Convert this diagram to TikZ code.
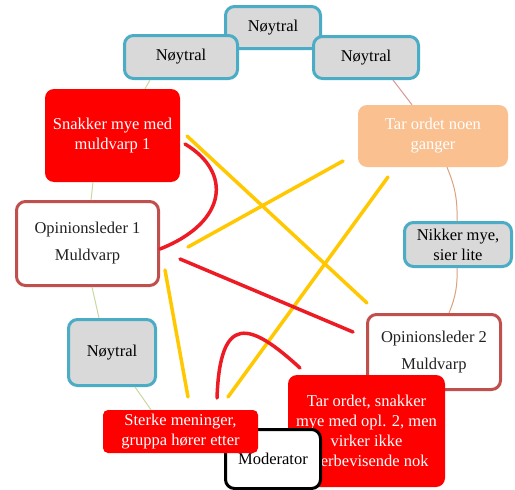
\documentclass[tikz,border=0pt]{standalone}
\usepackage{fontspec}
\setmainfont{Liberation Serif}
\usetikzlibrary{calc}
\definecolor{tealb}{HTML}{4BACC6}
\definecolor{grayf}{HTML}{D9D9D9}
\definecolor{boxred}{HTML}{FF0000}
\definecolor{peach}{HTML}{FAC090}
\definecolor{oplb}{HTML}{C0504D}
\definecolor{penred}{HTML}{ED1C24}
\definecolor{penyel}{HTML}{FFC800}
\definecolor{thing}{HTML}{C8D89E}
\definecolor{thinp}{HTML}{D99694}
\definecolor{thint}{HTML}{DDA07E}
\definecolor{txt}{HTML}{222222}
\begin{document}
\begin{tikzpicture}[x=1pt,y=-1pt,
  box/.style={rounded corners=9pt, align=center, inner sep=0pt, font=\fontsize{16.5}{20}\selectfont},
  neutral/.style={box, draw=tealb, line width=3pt, fill=grayf, text=black},
  opl/.style={box, draw=oplb, line width=3pt, fill=white, text=txt},
  redbox/.style={box, fill=boxred, text=white},
  peachbox/.style={box, fill=peach, text=white},
  modbox/.style={box, draw=black, line width=3pt, fill=white, text=black},
  thinline/.style={line width=1pt},
  pen/.style={line width=3.5pt, line cap=round}
]
\useasboundingbox (0,0) rectangle (515,490);

% nodes
\node[neutral, minimum width=95, minimum height=42] (nt) at (273,27.5) {Nøytral};
\node[neutral, minimum width=113, minimum height=43] (nl) at (181,57) {Nøytral};
\node[neutral, minimum width=105, minimum height=42] (nr) at (366,57.5) {Nøytral};
\node[redbox, minimum width=135, minimum height=93] (sn) at (112.5,135.5) {Snakker mye med\\muldvarp 1};
\node[peachbox, minimum width=150, minimum height=62] (tn) at (433,136) {Tar ordet noen\\ganger};
\node[opl, minimum width=142, minimum height=84] (o1) at (87.5,243.5) {Opinionsleder 1\\[7pt]Muldvarp};
\node[neutral, minimum width=107, minimum height=44] (nk) at (458,244.5) {Nikker mye,\\sier lite};
\node[neutral, minimum width=87, minimum height=66] (nb) at (112,352.5) {Nøytral};
\node[opl, minimum width=133, minimum height=75] (o2) at (434,352) {Opinionsleder 2\\[7pt]Muldvarp};
\node[redbox, minimum width=157, minimum height=112] (tr) at (366.5,431) {Tar ordet, snakker\\mye med opl. 2, men\\virker ikke\\overbevisende nok};
\node[modbox, minimum width=95, minimum height=59] (mo) at (273,459) {Moderator};
\node[redbox, rounded corners=5pt, minimum width=155, minimum height=43] (st) at (180.5,431.5) {Sterke meninger,\\gruppa hører etter};

% thin cycle connectors
\draw[thinline, thing] ([xshift=-31]nl.south) -- ([xshift=32.5]sn.north);
\draw[thinline, thing] ([xshift=-19.5]sn.south) -- ([xshift=3.5]o1.north);
\draw[thinline, thing] ([xshift=4.5]o1.south) -- ([xshift=-13]nb.north);
\draw[thinline, thing] ([xshift=23]nb.south) -- ([xshift=-29.5]st.north);
\draw[thinline, thinp] ([xshift=27]nr.south) -- ([xshift=-21]tn.north);
\draw[thinline, thint] ([xshift=14]tn.south) to[bend left=12] ([xshift=-1]nk.north);
\draw[thinline, thint] ([xshift=-1]nk.south) to[bend left=12] ([xshift=15]o2.north);

% hand-drawn pen strokes
\coordinate (ya1) at (187,136); \coordinate (yb1) at (367,303);
\coordinate (ya2) at (343,161); \coordinate (yb2) at (188,247);
\coordinate (ya3) at (388,177); \coordinate (yb3) at (228,397);
\coordinate (ya4) at (165,270); \coordinate (yb4) at (188,397);
\draw[pen, penyel] (ya1) -- (yb1);
\draw[pen, penyel] (ya2) -- (yb2);
\draw[pen, penyel] (ya3) -- (yb3);
\draw[pen, penyel] (ya4) -- (yb4);

\coordinate (ra1) at (185,144); \coordinate (rb1) at (160,249);
\coordinate (ra2) at (180,259); \coordinate (rb2) at (353,332);
\coordinate (ra3) at (217,398); \coordinate (rb3) at (300,368);
\draw[pen, penred] (ra1) .. controls (232,172) and (228,222) .. (rb1);
\draw[pen, penred] (ra2) -- (rb2);
\draw[pen, penred] (ra3) .. controls (220,312) and (250,322) .. (rb3);
\end{tikzpicture}
\end{document}
